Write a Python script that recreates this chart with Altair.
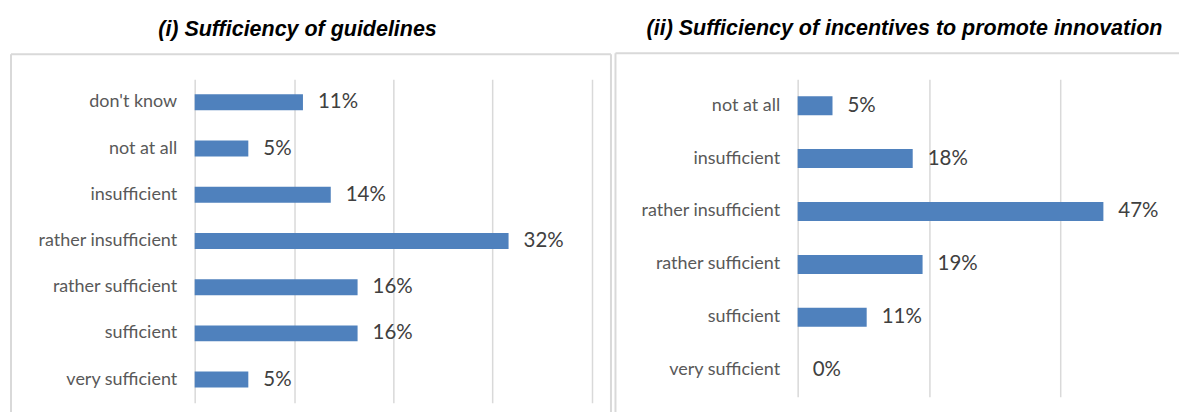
import altair as alt
import pandas as pd

# ---- data ----
cats_i = ["don't know", "not at all\u00a0", "insufficient", "rather insufficient",
          "rather sufficient\u00a0", "sufficient", "very sufficient"]
vals_i = [0.109, 0.054, 0.137, 0.316, 0.164, 0.164, 0.054]
grid_i = [0, 0.1, 0.2, 0.3, 0.4]

cats_ii = ["not at all\u00a0", "insufficient", "rather insufficient",
           "rather sufficient\u00a0", "sufficient", "very sufficient"]
vals_ii = [0.053, 0.175, 0.465, 0.19, 0.105, 0.0]
grid_ii = [0, 0.2, 0.4]

title_i = "(i) Sufficiency of guidelines"
title_ii = "(ii) Sufficiency of incentives to promote innovation"

BAR = "#4f81bd"
LINE = "#d9d9d9"
LABEL_FONT = "Lato"


def panel(cats, vals, grid, xmax, width, height, barsize, title, tdx, box, right_side):
    df = pd.DataFrame({"cat": cats, "val": vals})
    base = alt.Chart(df).encode(
        y=alt.Y("cat:N", sort=cats, title=None,
                axis=alt.Axis(ticks=False, domain=False, labelPadding=18,
                              labelFont=LABEL_FONT, labelFontSize=18,
                              labelColor="#595959", labelLimit=0, grid=False)),
        x=alt.X("val:Q", title=None,
                scale=alt.Scale(domain=[0, xmax], nice=False, zero=True),
                axis=alt.Axis(values=grid, labels=False, ticks=False, domain=False,
                              grid=True, gridColor=LINE, gridWidth=1.5)),
    )
    bars = base.mark_bar(size=barsize, color=BAR)
    text = base.mark_text(align="left", baseline="middle", dx=15,
                          font=LABEL_FONT, fontSize=20.5, color="#404040").encode(
        text=alt.Text("val:Q", format=".0%"))
    one = alt.Data(values=[{}])
    left, right, top, bottom = box
    rules = [
        alt.Chart(one).mark_rule(color=LINE, strokeWidth=2).encode(
            x=alt.value(left), y=alt.value(top), y2=alt.value(bottom)),
        alt.Chart(one).mark_rule(color=LINE, strokeWidth=2).encode(
            x=alt.value(left), x2=alt.value(right), y=alt.value(top)),
    ]
    if right_side:
        rules.append(alt.Chart(one).mark_rule(color=LINE, strokeWidth=2).encode(
            x=alt.value(right), y=alt.value(top), y2=alt.value(bottom)))
    return alt.layer(*rules, bars, text).properties(
        width=width, height=height,
        title=alt.TitleParams(title, anchor="middle", frame="group", dx=tdx,
                              offset=13, font="Liberation Sans", fontSize=21.5,
                              fontWeight="bold", fontStyle="italic", color="#000000"),
    )


p1 = panel(cats_i, vals_i, grid_i, 0.4, 398, 324, 16, title_i, -96,
           (-184, 417, -25, 336), True)
p2 = panel(cats_ii, vals_ii, grid_ii, 0.58, 382, 318, 19, title_ii, -84,
           (-182.5, 382, -26, 335), False)

chart = alt.hconcat(p1, p2, spacing=2).configure_view(stroke=None).properties(
    padding={"left": 2, "top": 9, "right": 0, "bottom": 0})

chart.save("out.html", embed_options={"renderer": "svg", "actions": False})
